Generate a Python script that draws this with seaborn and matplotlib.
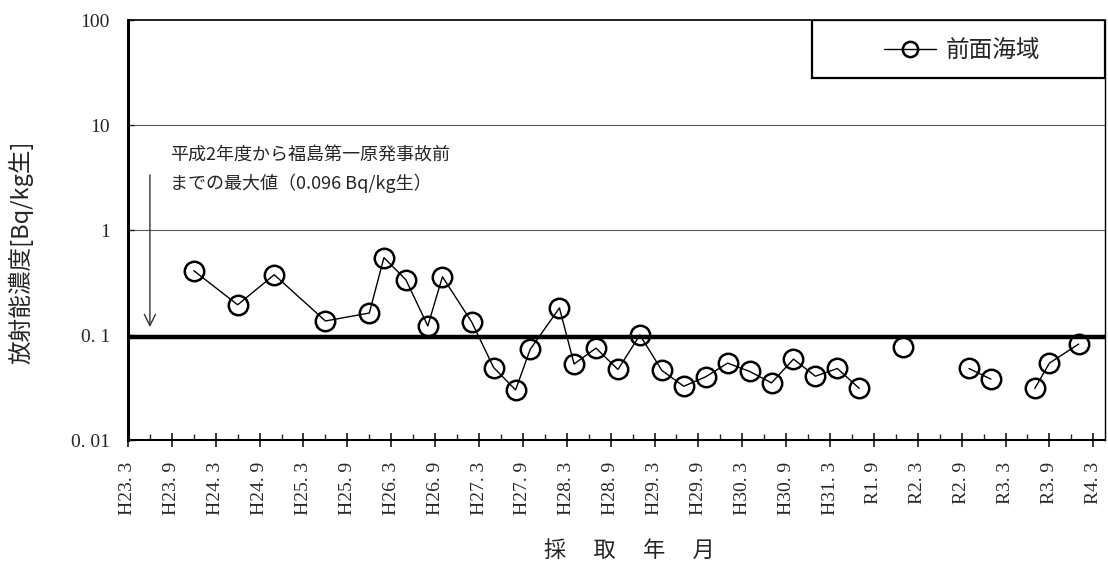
import numpy as np
import pandas as pd
import matplotlib
matplotlib.use("Agg")
import matplotlib.pyplot as plt
from matplotlib.lines import Line2D
from matplotlib.patches import Rectangle
from matplotlib.ticker import FixedLocator, NullFormatter
import seaborn as sns

# months since H23.3 (March 2011)
months = [9, 15, 20, 27, 33, 35, 38, 41, 43, 47, 50, 53, 55, 59, 61, 64, 67, 70,
          73, 76, 79, 82, 85, 88, 91, 94, 97, 100, 106, 115, 118, 124, 126, 130]
values = [0.41, 0.194, 0.375, 0.136, 0.162, 0.546, 0.336, 0.122, 0.359, 0.133,
          0.049, 0.030, 0.073, 0.181, 0.053, 0.075, 0.047, 0.100, 0.046, 0.0325,
          0.040, 0.054, 0.045, 0.035, 0.059, 0.0405, 0.048, 0.031, 0.077, 0.048,
          0.038, 0.031, 0.054, 0.082]
segments = [0] * 28 + [1] + [2, 2] + [3, 3, 3]
tick_labels = ["H23. 3", "H23. 9", "H24. 3", "H24. 9", "H25. 3", "H25. 9", "H26. 3",
               "H26. 9", "H27. 3", "H27. 9", "H28. 3", "H28. 9", "H29. 3", "H29. 9",
               "H30. 3", "H30. 9", "H31. 3", "R1. 9", "R2. 3", "R2. 9", "R3. 3",
               "R3. 9", "R4. 3"]
max_before = 0.096
series_name = "前面海域"

df = pd.DataFrame({"month": months, "value": values, "seg": segments})

sns.set_theme(style="white")
plt.rcParams["font.family"] = ["Liberation Serif", "Noto Sans CJK JP", "DejaVu Sans"]

fig = plt.figure(figsize=(11.08, 5.66), dpi=100)
ax = fig.add_axes([0.1155, 0.2226, 0.8818, 0.742])

sns.lineplot(data=df, x="month", y="value", units="seg", estimator=None,
             color="black", linewidth=1.0, marker="o", markersize=14,
             markerfacecolor="none", markeredgecolor="black", markeredgewidth=1.8,
             ax=ax, legend=False)

ax.set_yscale("log")
ax.set_ylim(0.01, 100)
ax.set_xlim(0, 133.6)

ax.axhline(max_before, color="black", linewidth=3.2, zorder=1)
for g in [1, 10]:
    ax.axhline(g, color="#555555", linewidth=0.8, zorder=0)

ax.set_yticks([0.01, 0.1, 1, 10, 100])
ax.set_yticklabels(["0. 01", "0. 1", "1", "10", "100"], fontsize=14)
ax.yaxis.set_minor_locator(FixedLocator([]))
ax.tick_params(axis="y", which="major", direction="in", length=4, width=1, pad=13, left=True)

major = list(range(0, 133, 6))
ax.set_xticks(major)
ax.set_xticklabels(tick_labels, rotation=90, fontsize=14)
ax.xaxis.set_minor_locator(FixedLocator(list(range(3, 133, 6))))
ax.xaxis.set_minor_formatter(NullFormatter())
ax.tick_params(axis="x", which="major", direction="inout", length=10, width=1.3, pad=11, bottom=True)
ax.tick_params(axis="x", which="minor", direction="in", length=4, width=1, bottom=True)

for side in ["left", "bottom", "top", "right"]:
    ax.spines[side].set_visible(True)
    ax.spines[side].set_color("black")
ax.spines["left"].set_linewidth(2.2)
ax.spines["bottom"].set_linewidth(1.5)
ax.spines["top"].set_linewidth(1.2)
ax.spines["right"].set_linewidth(1.0)

ax.set_ylabel("放射能濃度[Bq/kg生]", fontsize=17, family=["Noto Sans CJK JP"])
ax.yaxis.set_label_coords(-0.097, 0.448)
ax.set_xlabel("採　 取　 年　 月", fontsize=16, family=["Noto Sans CJK JP"])
ax.xaxis.set_label_coords(0.513, -0.235)

ax.annotate("", xy=(3.0, 0.112), xytext=(3.0, 3.57),
            arrowprops=dict(arrowstyle="->", color="#333333", lw=1.0,
                            mutation_scale=20))
ax.text(5.75, 6.3, "平成2年度から福島第一原発事故前\nまでの最大値（0.096 Bq/kg生）",
        fontsize=13, va="top", ha="left", linespacing=1.6,
        family=["Noto Sans CJK JP", "DejaVu Sans"])

ax.add_patch(Rectangle((0.700, 0.862), 0.300, 0.138, transform=ax.transAxes,
                       facecolor="white", edgecolor="black", linewidth=1.6, zorder=5))
handle = Line2D([], [], color="black", linewidth=1.0, marker="o", markersize=11,
                markerfacecolor="none", markeredgecolor="black", markeredgewidth=1.8)
leg = ax.legend([handle], [series_name], loc="center", bbox_to_anchor=(0.854, 0.928),
                frameon=False, handlelength=2.2, handletextpad=0.4,
                prop={"family": "Noto Sans CJK JP", "size": 17}, borderaxespad=0)
leg.set_zorder(6)

fig.savefig("out.png", dpi=100)
